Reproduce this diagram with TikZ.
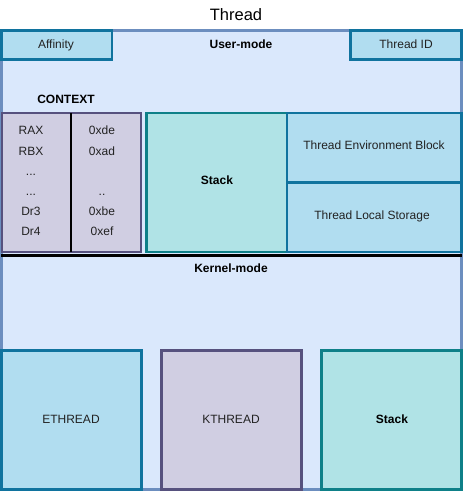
\documentclass[tikz,border=0pt]{standalone}
\usepackage{fontspec}
\setmainfont{Liberation Sans}
\definecolor{outerS}{HTML}{6C8EBF}
\definecolor{outerF}{HTML}{DAE8FC}
\definecolor{blueS}{HTML}{10739E}
\definecolor{blueF}{HTML}{B1DDF0}
\definecolor{purS}{HTML}{56517E}
\definecolor{purF}{HTML}{D0CEE2}
\definecolor{tealS}{HTML}{0E8088}
\definecolor{tealF}{HTML}{B0E3E6}
\definecolor{txt}{HTML}{222222}
\tikzset{
  box/.style={draw, line width=2.2pt, inner sep=0pt, outer sep=0pt},
  bluebox/.style={box, draw=blueS, fill=blueF},
  purbox/.style={box, draw=purS, fill=purF},
  tealbox/.style={box, draw=tealS, fill=tealF},
  lbl/.style={font=\fontsize{12}{14}\selectfont, text=txt, inner sep=0pt, text height=9.4pt, text depth=1.6pt},
  blbl/.style={font=\fontsize{12}{14}\selectfont\bfseries, text=black, inner sep=0pt, text height=9.4pt, text depth=1.6pt}
}
\begin{document}
\begin{tikzpicture}[x=1pt,y=-1pt]
\useasboundingbox (0,0) rectangle (463,500);
% outer container
\draw[draw=outerS, fill=outerF, line width=2.2pt] (1.5,30.5) rectangle (461.5,489.5);
\node[font=\fontsize{16.5}{18}\selectfont, inner sep=0pt] (title) at (236,15) {Thread};
% top boxes
\draw[bluebox] (1.5,30.5) rectangle (112,59.5);
\node[lbl] (aff) at (56,45) {Affinity};
\draw[bluebox] (350.5,30.5) rectangle (461.5,59.5);
\node[lbl] (tid) at (406,45) {Thread ID};
\node[blbl] (um) at (241,45) {User-mode};
\node[blbl] (ctx) at (66,100) {CONTEXT};
% context box
\draw[purbox] (2,113) rectangle (141,252);
\draw[black, line width=1.2pt] (71,113) -- (71,252);
\node[lbl] (r1) at (31,131) {RAX};
\node[lbl] (r2) at (31,152) {RBX};
\node[lbl] (r3) at (31,172) {...};
\node[lbl] (r4) at (31,192) {...};
\node[lbl] (r5) at (31,212) {Dr3};
\node[lbl] (r6) at (31,232) {Dr4};
\node[lbl] (v1) at (102,131) {0xde};
\node[lbl] (v2) at (102,152) {0xad};
\node[lbl] (v4) at (102,192) {..};
\node[lbl] (v5) at (102,212) {0xbe};
\node[lbl] (v6) at (102,232) {0xef};
% stack
\draw[tealbox] (146.5,113) rectangle (287,252);
\node[blbl] (stk) at (217,181) {Stack};
% TEB/TLS
\draw[bluebox] (287,113) rectangle (461.5,182.5);
\node[lbl] (teb) at (374,146) {Thread Environment Block};
\draw[bluebox] (287,182.5) rectangle (461.5,252);
\node[lbl] (tls) at (372,216) {Thread Local Storage};
% divider
\draw[black, line width=3pt] (1,255) -- (462,255);
\node[blbl] (km) at (231,269) {Kernel-mode};
% kernel boxes
\draw[bluebox] (1.5,350.5) rectangle (141.5,489.5);
\node[lbl] (eth) at (71,420) {ETHREAD};
\draw[purbox] (161.5,350.5) rectangle (301.5,489.5);
\node[lbl] (kth) at (231,420) {KTHREAD};
\draw[tealbox] (321.5,350.5) rectangle (461.5,489.5);
\node[blbl] (kst) at (392,420) {Stack};
\end{tikzpicture}
\end{document}
